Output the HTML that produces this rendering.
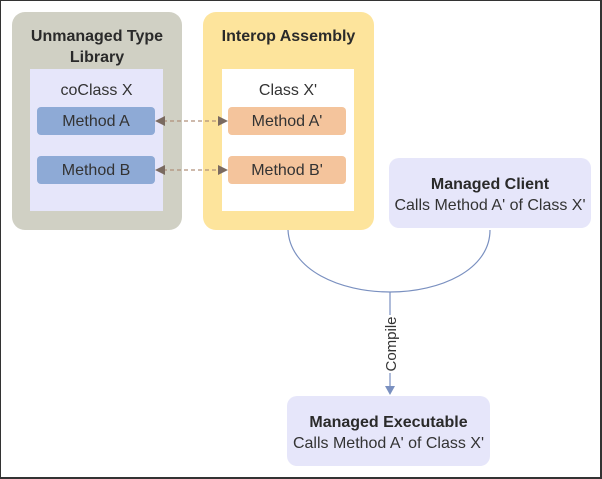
<!DOCTYPE html>
<html><head><meta charset="utf-8"><style>
body{margin:0;width:602px;height:479px;overflow:hidden;background:#fff;font-family:"Liberation Sans",sans-serif;}
.a{position:absolute;box-sizing:border-box;}
.m{position:absolute;box-sizing:border-box;border-radius:4px;font-size:16px;color:#333;text-align:center;line-height:30px;}
</style></head><body>
<div class="a" style="left:0;top:0;width:602px;height:479px;border:1px solid #333;border-right-width:2px;border-bottom-width:2px"></div>
<div class="a" style="left:12px;top:12px;width:170px;height:218px;background:#d0d0c4;border-radius:13px"></div>
<div class="a" style="left:12px;top:26px;width:170px;text-align:center;font-weight:bold;font-size:16px;color:#2a2a2a;line-height:21px">Unmanaged Type<br>Library</div>
<div class="a" style="left:30px;top:69px;width:133px;height:142px;background:#e6e6fa"></div>
<div class="a" style="left:30px;top:82px;width:133px;text-align:center;font-size:16px;color:#333">coClass X</div>
<div class="m" style="left:37px;top:107px;width:118px;height:28px;background:#8eaad6">Method A</div>
<div class="m" style="left:37px;top:156px;width:118px;height:28px;background:#8eaad6">Method B</div>
<div class="a" style="left:203px;top:12px;width:171px;height:218px;background:#fde49c;border-radius:13px"></div>
<div class="a" style="left:203px;top:28px;width:171px;text-align:center;font-weight:bold;font-size:16px;color:#2a2a2a">Interop Assembly</div>
<div class="a" style="left:222px;top:69px;width:132px;height:142px;background:#fff"></div>
<div class="a" style="left:222px;top:82px;width:132px;text-align:center;font-size:16px;color:#333">Class X'</div>
<div class="m" style="left:228px;top:107px;width:118px;height:28px;background:#f4c49c">Method A'</div>
<div class="m" style="left:228px;top:156px;width:118px;height:28px;background:#f4c49c">Method B'</div>
<div class="a" style="left:389px;top:158px;width:202px;height:70px;background:#e6e6fa;border-radius:10px;text-align:center;font-size:16px;color:#333;padding-top:16px;line-height:21px"><b style="color:#2a2a2a">Managed Client</b><br>Calls Method A' of Class X'</div>
<div class="a" style="left:287px;top:396px;width:203px;height:70px;background:#e6e6fa;border-radius:10px;text-align:center;font-size:16px;color:#333;padding-top:16px;line-height:21px"><b style="color:#2a2a2a">Managed Executable</b><br>Calls Method A' of Class X'</div>
<svg class="a" style="left:0;top:0" width="602" height="479">
<g stroke="#b0907a" stroke-dasharray="4,3" stroke-width="1.3">
<line x1="163" y1="121" x2="220" y2="121"/><line x1="163" y1="170" x2="220" y2="170"/></g>
<g fill="#7a6a60">
<polygon points="155,121 165,116 165,126"/><polygon points="228,121 218,116 218,126"/>
<polygon points="155,170 165,165 165,175"/><polygon points="228,170 218,165 218,175"/></g>
<path d="M288,230 C290,270 340,292 390,292 C440,292 490,270 490,230" fill="none" stroke="#7a90c0" stroke-width="1.2"/>
<line x1="390" y1="292" x2="390" y2="388" stroke="#7a90c0" stroke-width="1.2"/>
<polygon points="385,386 395,386 390,395" fill="#7a90c0"/>
<rect x="381" y="315" width="18" height="58" fill="#fff"/>
<text x="0" y="0" transform="translate(396,344) rotate(-90)" text-anchor="middle" font-family="Liberation Sans,sans-serif" font-size="15" fill="#333">Compile</text>
</svg>
</body></html>
